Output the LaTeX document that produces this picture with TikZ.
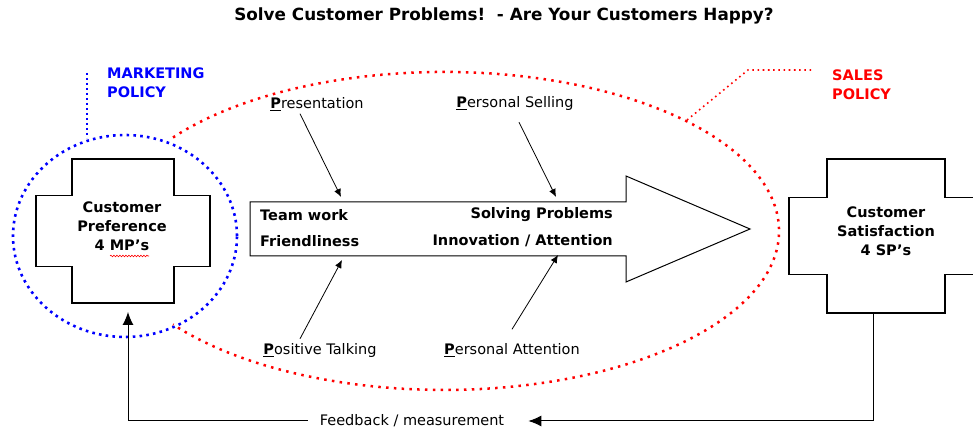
\documentclass[tikz,border=0pt]{standalone}
\usepackage{fontspec}
\setmainfont{DejaVu Sans}
\usetikzlibrary{arrows.meta,calc,decorations.pathmorphing}

\tikzset{
  crossline/.style={line width=1.3pt},
  lbl/.style={font=\fontsize{14.5}{19}\selectfont, inner sep=2pt},
  boldlbl/.style={font=\fontsize{14.5}{19}\selectfont\bfseries, inner sep=2pt},
  parrow/.style={-{Latex[length=8pt,width=7pt]}, line width=0.8pt},
  fbarrow/.style={-{Latex[length=13pt,width=11pt]}, line width=1pt},
  bluedots/.style={blue, line width=2.6pt, dash pattern=on 2.6pt off 4.2pt},
  reddots/.style={red, line width=2.5pt, dash pattern=on 2.5pt off 5.3pt},
}

% cross outline: cx, cy, arm half width, arm half height, band half width, band half height
\newcommand{\plusshape}[6]{%
  \draw[crossline] ({#1-#3},{#2+#4}) -- ({#1+#3},{#2+#4}) -- ({#1+#3},{#2+#6})
    -- ({#1+#5},{#2+#6}) -- ({#1+#5},{#2-#6}) -- ({#1+#3},{#2-#6})
    -- ({#1+#3},{#2-#4}) -- ({#1-#3},{#2-#4}) -- ({#1-#3},{#2-#6})
    -- ({#1-#5},{#2-#6}) -- ({#1-#5},{#2+#6}) -- ({#1-#3},{#2+#6}) -- cycle;}

\begin{document}
\begin{tikzpicture}[x=1pt,y=1pt]
\clip (0,0) rectangle (973,430);

% title
\node[boldlbl, font=\fontsize{16.8}{19}\selectfont\bfseries] (title) at (504,414) {Solve Customer Problems!\ \ - Are Your Customers Happy?};

% customer preference
\plusshape{123}{199}{51}{72}{87}{35.5}
\node[boldlbl, align=center] (pref) at (122,204) {Customer\\Preference\\4 MP’s};
\draw[red, line width=0.6pt, decorate, decoration={snake, amplitude=0.8pt, segment length=3pt}] (110,174) -- (149,174);
\draw[bluedots] (125,194) ellipse[x radius=112, y radius=101];

% marketing policy
\node[boldlbl, blue, align=left, anchor=west] (mkt) at (105,347) {MARKETING\\POLICY};
\coordinate (mkt-top) at (87,357);
\coordinate (mkt-foot) at (87,292);
\draw[blue, line width=1.6pt, dash pattern=on 1.6pt off 3.4pt] (mkt-top) -- (mkt-foot);

% customer satisfaction
\plusshape{886}{194}{59}{77}{97}{38.5}
\node[boldlbl, align=center] (sat) at (886,199) {Customer\\Satisfaction\\4 SP’s};

% sales policy
\draw[reddots] (173,292.5) arc[start angle=144, end angle=-144, x radius=335, y radius=159];
\node[boldlbl, red, align=left, anchor=west] (sales) at (830,345) {SALES\\POLICY};
\coordinate (sales-ring) at (687,310);
\coordinate (sales-bend) at (748,360);
\coordinate (sales-end) at (812,360);
\draw[red, line width=1.6pt, dash pattern=on 1.6pt off 3.6pt] (sales-ring) -- (sales-bend) -- (sales-end);

% big arrow
\draw[line width=1pt] (250,228) -- (626,228) -- (626,254) -- (750,201)
  -- (626,148) -- (626,174) -- (250,174) -- cycle;
\node[boldlbl, anchor=west] (team) at (258,215) {Team work};
\node[boldlbl, anchor=west] (friend) at (258,189) {Friendliness};
\node[boldlbl, anchor=east] (solve) at (615,215) {Solving Problems};
\node[boldlbl, anchor=east] (innov) at (615,189) {Innovation / Attention};

% the four P's
\node[lbl] (pres) at (317,326) {\underline{\textbf{P}}resentation};
\node[lbl] (sell) at (515,326) {\underline{\textbf{P}}ersonal Selling};
\node[lbl] (talk) at (320,79) {\underline{\textbf{P}}ositive Talking};
\node[lbl] (att) at (512,80) {\underline{\textbf{P}}ersonal Attention};
\coordinate (pres-in) at (341,233);
\coordinate (sell-in) at (556,233);
\coordinate (talk-in) at (342,170);
\coordinate (att-in) at (558,175);
\draw[parrow] ($(pres.south)+(-17,-1)$) -- (pres-in);
\draw[parrow] ($(sell.south)+(4,-9)$) -- (sell-in);
\draw[parrow] ($(talk.north)+(-20,3)$) -- (talk-in);
\draw[parrow] ($(att.north)+(0,12)$) -- (att-in);

% feedback
\node[lbl, inner xsep=12pt] (fb) at (412,9) {Feedback / measurement};
\coordinate (sat-foot) at (873,117);
\coordinate (pref-foot) at (128,118);
\draw[fbarrow, shorten >=12pt] (sat-foot) |- (fb.east);
\draw[fbarrow] (fb.west) -| (pref-foot);
\end{tikzpicture}
\end{document}
